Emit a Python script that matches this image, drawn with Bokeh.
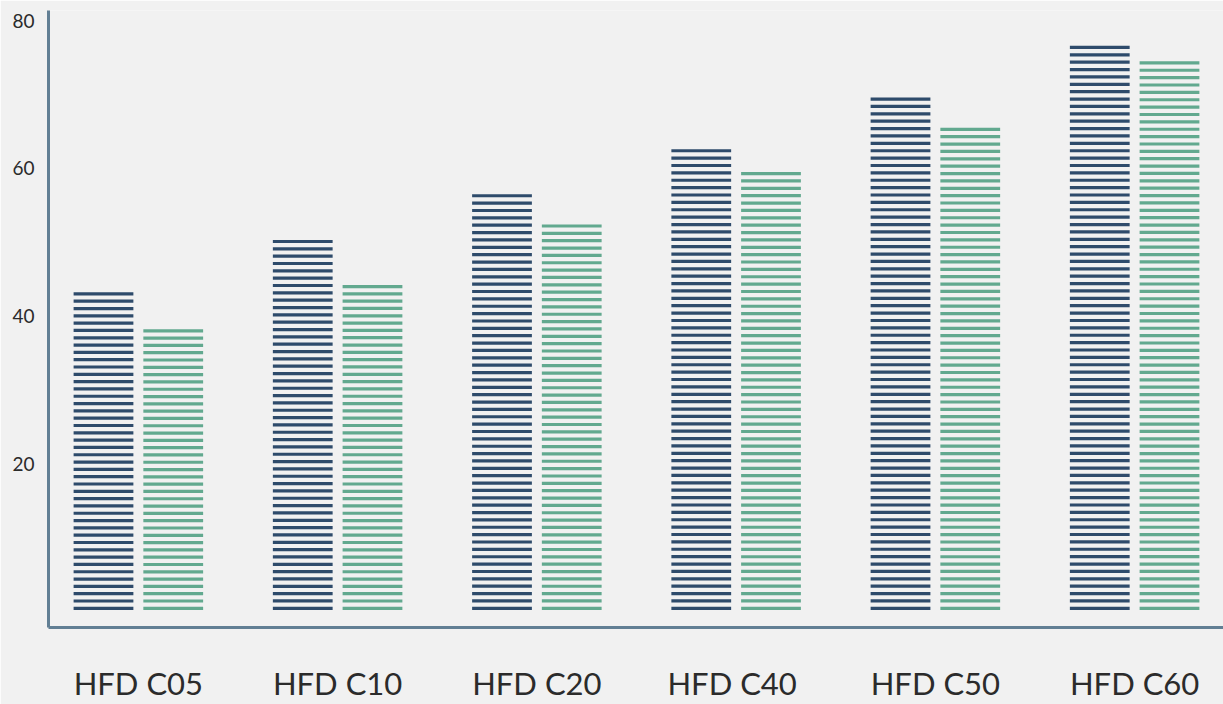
import numpy as np
from bokeh.plotting import figure
from bokeh.models import Range1d, FixedTicker, ColumnDataSource
from bokeh.embed import file_html
from bokeh.resources import INLINE

categories = ["HFD C05", "HFD C10", "HFD C20", "HFD  C40", "HFD C50", "HFD C60"]
series_dark = [43.2, 50.3, 56.5, 62.6, 69.6, 76.6]
series_green = [38.2, 44.2, 52.4, 59.5, 65.5, 74.5]
y_ticks = [20, 40, 60, 80]

DARK = "#2e4b6b"
GREEN = "#62a98f"
AXIS = "#627f94"
BG = "#f1f1f1"
FONT = "Lato"

p = figure(width=1223, height=704, output_backend="svg", toolbar_location=None,
           x_range=Range1d(-0.451, 5.446), y_range=Range1d(-2.2, 81.4),
           min_border_left=48, min_border_right=0, min_border_top=10, min_border_bottom=76,
           background_fill_color=BG, border_fill_color=BG)
p.outline_line_color = None
p.grid.visible = False


def stripes(values, offset):
    xs, ys = [], []
    for i, v in enumerate(values):
        n = int(round(v - 0.6)) + 1
        for c in np.linspace(0.4, v - 0.2, n):
            xs.append(i + offset)
            ys.append(c)
    return ColumnDataSource(dict(x=xs, y=ys))


p.rect(x="x", y="y", width=0.30, height=3.2, height_units="screen",
       source=stripes(series_dark, -0.175), fill_color=DARK, line_color=None)
p.rect(x="x", y="y", width=0.30, height=3.2, height_units="screen",
       source=stripes(series_green, 0.175), fill_color=GREEN, line_color=None)

# axes
p.yaxis.ticker = FixedTicker(ticks=y_ticks)
p.xaxis.ticker = FixedTicker(ticks=list(range(len(categories))))
p.xaxis.major_label_overrides = {i: c for i, c in enumerate(categories)}
for ax in (p.xaxis[0], p.yaxis[0]):
    ax.axis_line_color = AXIS
    ax.axis_line_width = 3
    ax.major_tick_line_color = None
    ax.minor_tick_line_color = None
    ax.major_tick_out = 0
    ax.minor_tick_out = 0
    ax.major_label_text_font = FONT
    ax.major_label_text_color = "#2b2b2b"
p.yaxis.major_label_text_font_size = "19px"
p.yaxis.major_label_standoff = 14
p.xaxis.major_label_text_font_size = "31px"
p.xaxis.major_label_standoff = 36

open("out.html", "w").write(file_html(p, INLINE))
